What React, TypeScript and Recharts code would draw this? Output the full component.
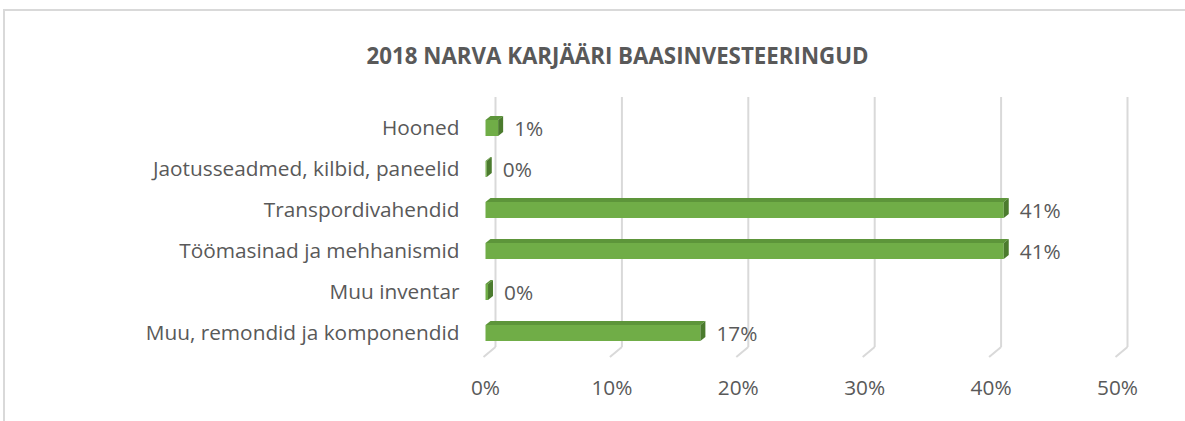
import React from "react";
import {
  BarChart,
  Bar,
  XAxis,
  YAxis,
  CartesianGrid,
  LabelList,
} from "recharts";

const categories = [
  "Hooned",
  "Jaotusseadmed, kilbid, paneelid",
  "Transpordivahendid",
  "Töömasinad ja mehhanismid",
  "Muu inventar",
  "Muu, remondid ja komponendid",
];
const shares = [0.01, 0.001, 0.41, 0.41, 0.002, 0.17];
const xTicks = [0, 0.1, 0.2, 0.3, 0.4, 0.5];

const chartData = categories.map((name, i) => ({ name, value: shares[i] }));

const textColor = "#595959";
const font = "'Open Sans', 'Noto Sans', sans-serif";
const fs = 20.8;

const pct = (v: number) => `${Math.round(v * 100)}%`;

// bar with a fake 3D look: front, top and right faces
const Bar3D = (props: any) => {
  const { x, y, width, height } = props;
  const d = 5;
  const h = 4;
  const w = Math.max(width, 0);
  return (
    <g>
      <polygon
        points={`${x},${y} ${x + d},${y - h} ${x + w + d},${y - h} ${x + w},${y}`}
        fill="#5d953a"
      />
      <rect x={x} y={y} width={w} height={height} fill="#70ad47" />
      <polygon
        points={`${x + w},${y} ${x + w + d},${y - h} ${x + w + d},${y + height - h} ${x + w},${y + height}`}
        fill="#4b7b2e"
      />
    </g>
  );
};

// gridline on the back wall plus the slanted floor line
const GridLine3D = (props: any) => {
  const { x1, y1, y2 } = props;
  return (
    <g key={props.key}>
      <line x1={x1 + 10} y1={y1 - 10} x2={x1 + 10} y2={y2 - 6} stroke="#d9d9d9" strokeWidth={2} />
      <line x1={x1 + 10} y1={y2 - 6} x2={x1 - 2} y2={y2 + 4} stroke="#d9d9d9" strokeWidth={2} />
    </g>
  );
};

const ValueLabel = (props: any) => {
  const { x, y, width, height, value } = props;
  return (
    <text
      x={x + width + 16}
      y={y + height / 2}
      dominantBaseline="central"
      fill={textColor}
      fontSize={fs}
      fontFamily={font}
    >
      {pct(value)}
    </text>
  );
};

export default function App() {
  return (
    <div
      style={{
        position: "absolute",
        left: 3,
        top: 9,
        width: 1180,
        height: 410,
        borderTop: "2px solid #d9d9d9",
        borderLeft: "2px solid #d9d9d9",
        background: "#fff",
        fontFamily: font,
      }}
    >
      <div
        style={{
          position: "absolute",
          left: 0,
          top: 32,
          width: 1225,
          textAlign: "center",
          fontSize: 22.3,
          lineHeight: "26px",
          fontWeight: 700,
          color: textColor,
        }}
      >
        2018 NARVA KARJÄÄRI BAASINVESTEERINGUD
      </div>
      <BarChart
        width={1178}
        height={410}
        data={chartData}
        layout="vertical"
        margin={{ top: 96, right: 65.5, left: 10.5, bottom: 23 }}
        barSize={16}
      >
        <CartesianGrid horizontal={false} vertical={GridLine3D} fill="none" />
        <XAxis
          type="number"
          domain={[0, 0.5]}
          ticks={xTicks}
          tickFormatter={pct}
          axisLine={false}
          tickLine={false}
          tickMargin={21}
          height={45}
          tick={{ fill: textColor, fontSize: fs, fontFamily: font }}
        />
        <YAxis
          type="category"
          dataKey="name"
          width={470}
          axisLine={false}
          tickLine={false}
          tickMargin={20}
          tick={{ fill: textColor, fontSize: fs, fontFamily: font }}
        />
        <Bar dataKey="value" shape={Bar3D} isAnimationActive={false}>
          <LabelList dataKey="value" content={ValueLabel} />
        </Bar>
      </BarChart>
    </div>
  );
}
